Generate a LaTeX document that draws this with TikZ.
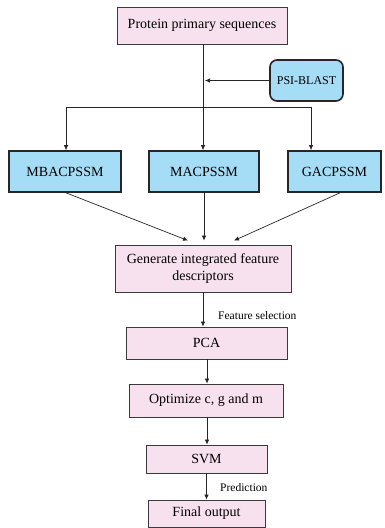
\documentclass[tikz,border=0pt]{standalone}
\usepackage{fontspec}
\setmainfont{Liberation Serif}
\usetikzlibrary{arrows.meta,calc}
\definecolor{pinkfill}{HTML}{F8E1EE}
\definecolor{bluefill}{HTML}{A6DDF6}
\definecolor{edge}{HTML}{3A3A3A}
\tikzset{
  pinkbox/.style={draw=edge, line width=0.9pt, fill=pinkfill, inner sep=0pt, align=center, font=\fontsize{14}{17}\selectfont},
  bluebox/.style={draw=black!85, line width=1.6pt, fill=bluefill, inner sep=0pt, align=center, font=\fontsize{14}{17}\selectfont},
  arr/.style={draw=black!85, line width=0.7pt, -{Latex[length=5pt,width=4.5pt]}},
  ln/.style={draw=black!85, line width=0.7pt},
  lbl/.style={font=\fontsize{11.5}{13}\selectfont, anchor=west, inner sep=0pt},
}
\begin{document}
\begin{tikzpicture}[x=1pt,y=-1pt]
\useasboundingbox (0,0) rectangle (384,528);
\node[pinkbox, minimum width=170pt, minimum height=37pt] (prot) at (202,25.5) {Protein primary sequences};
\node[bluebox, minimum width=73pt, minimum height=41pt, rounded corners=7pt, font=\fontsize{12}{14}\selectfont] (psi) at (306.5,80.5) {PSI-BLAST};
\node[bluebox, minimum width=112pt, minimum height=41pt] (mba) at (65,171.5) {MBACPSSM};
\node[bluebox, minimum width=110pt, minimum height=41pt] (mac) at (204,171.5) {MACPSSM};
\node[bluebox, minimum width=93pt, minimum height=41pt] (gac) at (334.5,171.5) {GACPSSM};
\node[pinkbox, minimum width=176pt, minimum height=47pt] (gen) at (203,268.5) {Generate integrated feature\\descriptors};
\node[pinkbox, minimum width=161pt, minimum height=32pt] (pca) at (206.5,343) {PCA};
\node[pinkbox, minimum width=154pt, minimum height=33pt] (opt) at (206,400.5) {Optimize c, g and m};
\node[pinkbox, minimum width=121pt, minimum height=28pt] (svm) at (206.5,459) {SVM};
\node[pinkbox, minimum width=117pt, minimum height=27pt] (fin) at (206.5,513.5) {Final output};

\coordinate (psitip) at (205,80.5);
\coordinate (jc) at (203,107);
\coordinate (jl) at (66,107);
\coordinate (jr) at (311,107);

\draw[ln] (prot.south -| jc) -- (jc);
\draw[arr] (psi.west) -- (psitip);
\draw[ln] (jl) -- (jr);
\draw[arr] (jl) -- (jl |- mba.north);
\draw[arr] (jc) -- (jc |- mac.north);
\draw[arr] (jr) -- (jr |- gac.north);

\draw[arr] ($(mba.south)+(1,0)$) -- ($(gen.north)+(-15,-4)$);
\draw[arr] (mac.south) -- ($(mac.south |- gen.north)+(0,-4)$);
\draw[arr] ($(gac.south)+(5.5,0)$) -- ($(gen.north)+(31,-4)$);

\draw[arr] (gen.south) -- (gen.south |- pca.north);
\node[lbl] (fs) at (218,316) {Feature selection};
\draw[arr] ($(pca.south)+(0.5,0)$) -- ($(opt.north)+(1,0)$);
\draw[arr] ($(opt.south)+(1,0)$) -- ($(svm.north)+(0.5,0)$);
\draw[arr] (svm.south) -- (fin.north);
\node[lbl] (pr) at (220,488) {Prediction};
\end{tikzpicture}
\end{document}
